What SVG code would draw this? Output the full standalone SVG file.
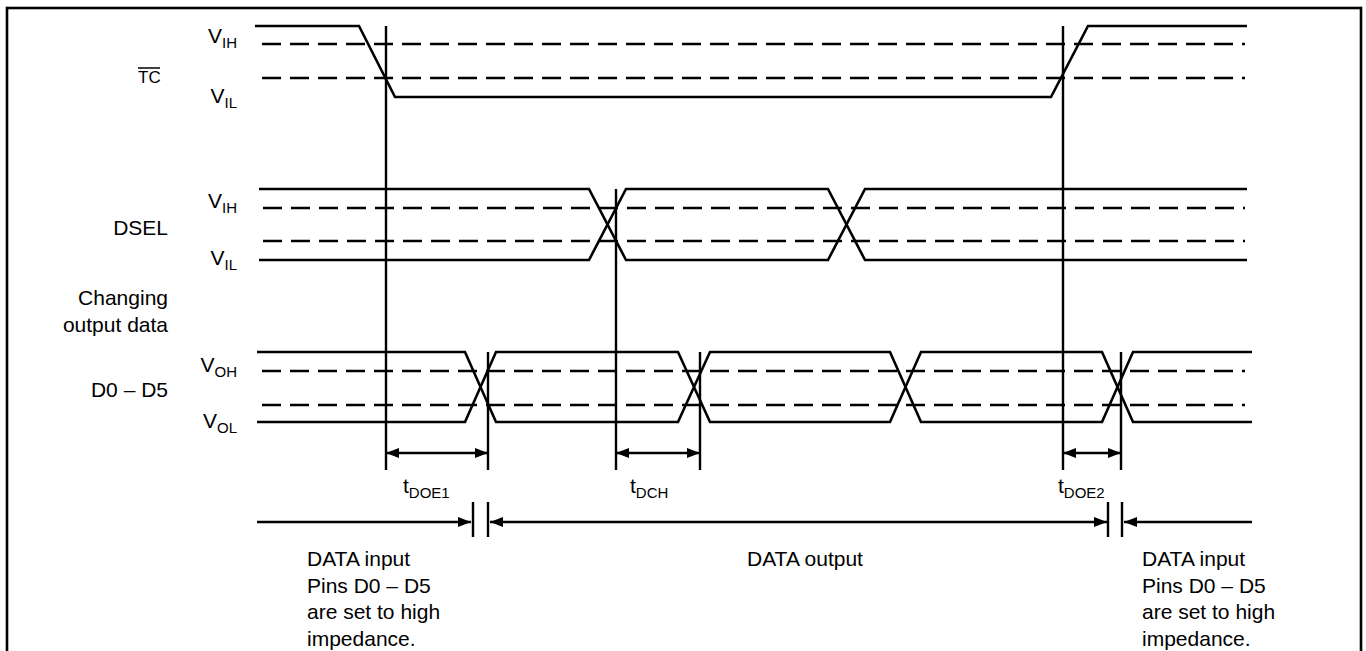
<svg xmlns="http://www.w3.org/2000/svg" width="1366" height="651" viewBox="0 0 1366 651">
<style>
.sig{fill:none;stroke:#000;stroke-width:2.6;stroke-linejoin:miter}
.dash{fill:none;stroke:#000;stroke-width:2.6;stroke-dasharray:19 9}
.vl{fill:none;stroke:#000;stroke-width:2.4}
.arr{fill:none;stroke:#000;stroke-width:2.4;marker-start:url(#ah);marker-end:url(#ah)}
text{font-family:"Liberation Sans",Arial,Helvetica,sans-serif;fill:#000}
.lbl{font-size:21px}
.tc{font-size:17px}
.sub{font-size:15px}
.note{font-size:21px}
</style>
<defs>
<marker id="ah" viewBox="0 0 13 10" refX="13" refY="5" markerWidth="13" markerHeight="10" markerUnits="userSpaceOnUse" orient="auto-start-reverse"><path d="M0,0 L13,5 L0,10 z" fill="#000"/></marker>
</defs>
<rect id="frame" x="7" y="8" width="1354" height="700" fill="none" stroke="#000" stroke-width="2.6"/>

<g id="sig-tc">
<text class="tc" x="138" y="83">TC</text>
<line x1="138" y1="68" x2="160" y2="68" stroke="#000" stroke-width="1.5"/>
<text class="lbl" x="237" y="43" text-anchor="end">V<tspan class="sub" dy="5">IH</tspan></text>
<text class="lbl" x="237" y="103" text-anchor="end">V<tspan class="sub" dy="5">IL</tspan></text>
<path class="sig" d="M255,26 H359 L395,97 H1051 L1088,26 H1247"/>
<path class="dash" d="M262,44 H1245 M262,78 H1245"/>
</g>

<g id="sig-dsel">
<text class="lbl" x="168" y="235" text-anchor="end">DSEL</text>
<text class="lbl" x="237" y="208" text-anchor="end">V<tspan class="sub" dy="5">IH</tspan></text>
<text class="lbl" x="237" y="265" text-anchor="end">V<tspan class="sub" dy="5">IL</tspan></text>
<path class="sig" d="M259,189 H589 L626,260 H828 L865,189 H1247"/>
<path class="sig" d="M259,260 H589 L626,189 H828 L865,260 H1247"/>
<path class="dash" d="M263,208 H1245 M263,241 H1245"/>
</g>

<g id="sig-data">
<text class="lbl" x="168" y="305" text-anchor="end">Changing</text>
<text class="lbl" x="168" y="332" text-anchor="end">output data</text>
<text class="lbl" x="168" y="397" text-anchor="end">D0 – D5</text>
<text class="lbl" x="237" y="372" text-anchor="end">V<tspan class="sub" dy="5">OH</tspan></text>
<text class="lbl" x="237" y="428" text-anchor="end">V<tspan class="sub" dy="5">OL</tspan></text>
<path class="sig" d="M257,352 H465 L496,422 H678 L710,352 H890 L921,422 H1102 L1133,352 H1252"/>
<path class="sig" d="M257,422 H465 L496,352 H678 L710,422 H890 L921,352 H1102 L1133,422 H1252"/>
<path class="dash" d="M262,371 H1245 M262,405 H1245"/>
</g>

<g id="connectors">
<path class="vl" d="M386,26 V470 M488,352 V470 M616,189 V470 M700,352 V470 M1063,26 V470 M1121,352 V470"/>
<line class="arr" x1="386" y1="453" x2="488" y2="453"/>
<line class="arr" x1="616" y1="453" x2="700" y2="453"/>
<line class="arr" x1="1063" y1="453" x2="1121" y2="453"/>
<path class="vl" d="M473,502 V537 M488,502 V537 M1108,502 V537 M1122,502 V537"/>
<line x1="257" y1="522" x2="471" y2="522" stroke="#000" stroke-width="2.4" marker-end="url(#ah)"/>
<line class="arr" x1="490" y1="522" x2="1107" y2="522"/>
<line x1="1124" y1="522" x2="1252" y2="522" stroke="#000" stroke-width="2.4" marker-start="url(#ah)"/>
</g>

<g id="timing-labels">
<text class="lbl" x="403" y="493">t<tspan class="sub" dy="5">DOE1</tspan></text>
<text class="lbl" x="630" y="493">t<tspan class="sub" dy="5">DCH</tspan></text>
<text class="lbl" x="1058" y="493">t<tspan class="sub" dy="5">DOE2</tspan></text>
</g>

<g id="phase-input-1">
<text class="note" x="307" y="566">DATA input</text>
<text class="note" x="307" y="593">Pins D0 – D5</text>
<text class="note" x="307" y="619">are set to high</text>
<text class="note" x="307" y="646">impedance.</text>
</g>
<g id="phase-output">
<text class="note" x="747" y="566">DATA output</text>
</g>
<g id="phase-input-2">
<text class="note" x="1142" y="566">DATA input</text>
<text class="note" x="1142" y="593">Pins D0 – D5</text>
<text class="note" x="1142" y="619">are set to high</text>
<text class="note" x="1142" y="646">impedance.</text>
</g>
</svg>
